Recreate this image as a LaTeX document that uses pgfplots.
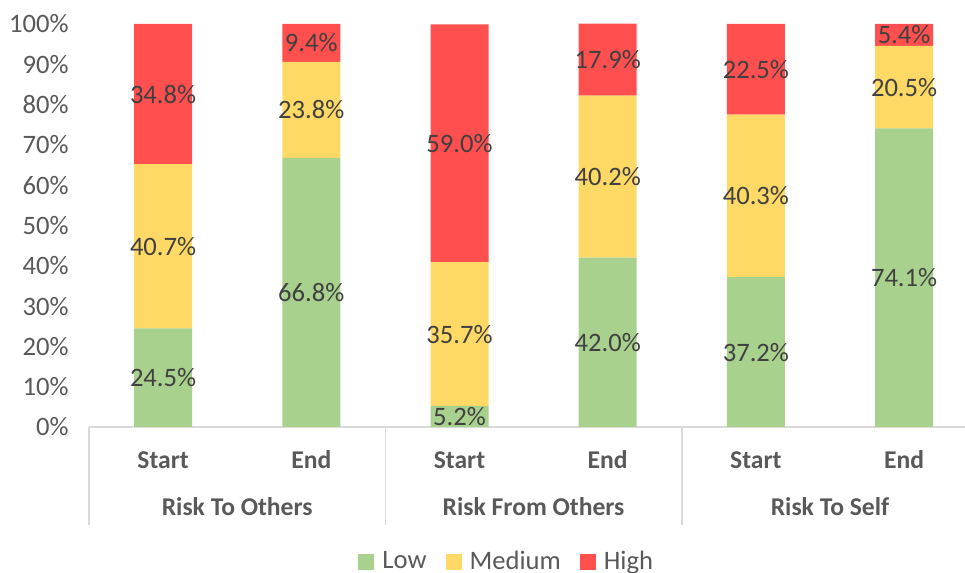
\documentclass[border=0pt]{standalone}
\usepackage{pgfplots}
\pgfplotsset{compat=1.18}
\usepackage{fontspec}
\setmainfont{Carlito}

\definecolor{lowc}{HTML}{A9D18E}
\definecolor{medc}{HTML}{FFD966}
\definecolor{highc}{HTML}{FF4F4F}
\definecolor{ticktext}{HTML}{595959}
\definecolor{valtext}{HTML}{404040}
\definecolor{rulec}{HTML}{D9D9D9}

\newcommand\catfont{\fontsize{12.8}{15}\selectfont\bfseries}

\begin{document}
\fontsize{13.3}{16}\selectfont
\begin{tikzpicture}
\begin{axis}[
  at={(44.5pt,73pt)}, anchor=south west,
  scale only axis, width=438pt, height=201.5pt,
  ybar stacked, bar width=29pt,
  xmin=-0.5, xmax=5.411, ymin=0, ymax=100,
  clip=false,
  /pgf/number format/assume math mode=true,
  axis x line*=bottom, axis y line*=left,
  y axis line style={draw=none},
  x axis line style={draw=rulec, line width=0.75pt, -},
  major tick length=0pt, tick style={draw=none},
  ytick={0,10,...,100},
  yticklabel={\pgfmathprintnumber{\tick}\%},
  yticklabel style={anchor=east, inner sep=0pt, xshift=-10pt, text=ticktext},
  xtick={0,1,2,3,4,5},
  xticklabels={Start,End,Start,End,Start,End},
  xticklabel style={font=\catfont, text=ticktext, anchor=center, inner sep=0pt, yshift=-16.5pt},
  visualization depends on=rawy\as\rawy,
  nodes near coords={\pgfmathprintnumber[fixed,zerofill,precision=1]{\rawy}\%},
  every node near coord/.append style={anchor=center, text=valtext, inner sep=0pt},
  legend style={at={(0.478,-0.335)}, anchor=center, draw=none, fill=none,
    legend columns=-1, text=ticktext,
    /tikz/every even column/.append style={column sep=7.5pt},
    /tikz/every odd column/.append style={column sep=2pt}},
  legend image code/.code={\fill[#1, draw=none] (0pt,-4pt) rectangle (8pt,4pt);},
]
\addplot[fill=lowc, draw=none] coordinates {(0,24.5) (1,66.8) (2,5.2) (3,42.0) (4,37.2) (5,74.1)};
\addplot[fill=medc, draw=none] coordinates {(0,40.7) (1,23.8) (2,35.7) (3,40.2) (4,40.3) (5,20.5)};
\addplot[fill=highc, draw=none] coordinates {(0,34.8) (1,9.4) (2,59.0) (3,17.9) (4,22.5) (5,5.4)};
\legend{Low,Medium,High}

% group separators and group names under the category labels
\draw[rulec, line width=0.75pt] (axis cs:-0.5,0) -- ++(0pt,-49pt);
\draw[rulec, line width=0.75pt] (axis cs:1.5,0) -- ++(0pt,-49pt);
\draw[rulec, line width=0.75pt] (axis cs:3.5,0) -- ++(0pt,-49pt);
\node[font=\catfont, text=ticktext] at ([yshift=-40pt]axis cs:0.5,0) {Risk To Others};
\node[font=\catfont, text=ticktext] at ([yshift=-40pt]axis cs:2.5,0) {Risk From Others};
\node[font=\catfont, text=ticktext] at ([yshift=-40pt]axis cs:4.5,0) {Risk To Self};
\end{axis}
\pgfresetboundingbox
\path[use as bounding box] (0,0) rectangle (482.5pt,286.5pt);
\end{tikzpicture}
\end{document}
